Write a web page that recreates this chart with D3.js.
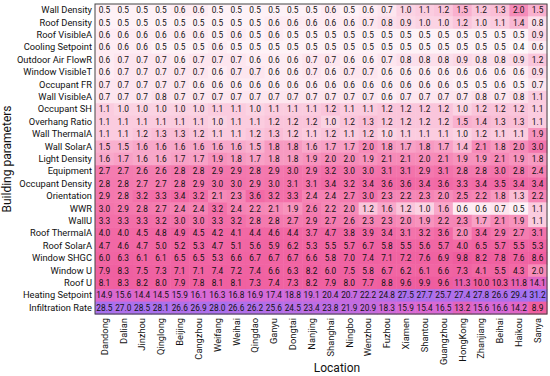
<!DOCTYPE html>
<meta charset="utf-8" />
<style>
  body { margin: 0; background: #fff; }
  text { font-family: Roboto, "Liberation Sans", sans-serif; fill: #111; }
</style>
<body>
<div id="chart"></div>
<script src="https://cdn.jsdelivr.net/npm/d3@7"></script>
<script>
// locations (columns)
var locations = ["Dandong","Dalian","Jinzhou","Qinglong","Beijing","Cangzhou","Weifang","Weihai",
  "Qingdao","Ganyu","Dongtai","Nanjing","Shanghai","Ningbo","Wenzhou","Fuzhou",
  "Xiamen","Shantou","Guangzhou","HongKong","Zhanjiang","Beihai","Haikou","Sanya"];

// building parameters (rows, top to bottom)
var parameters = ["Wall Density","Roof Density","Roof VisibleA","Cooling Setpoint","Outdoor Air FlowR",
  "Window VisibleT","Occupant FR","Wall VisibleA","Occupant SH","Overhang Ratio","Wall ThermalA",
  "Wall SolarA","Light Density","Equipment","Occupant Density","Orientation","WWR","WallU",
  "Roof ThermalA","Roof SolarA","Window SHGC","Window U","Roof U","Heating Setpoint","Infiltration Rate"];

var wallDensity      = [0.5,0.5,0.5,0.5,0.6,0.6,0.5,0.5,0.5,0.5,0.5,0.5,0.6,0.5,0.6,0.7,1.0,1.1,1.2,1.5,1.2,1.3,2.0,1.5];
var roofDensity      = [0.5,0.5,0.5,0.5,0.5,0.5,0.5,0.5,0.5,0.6,0.6,0.6,0.6,0.6,0.7,0.8,0.9,1.0,1.0,1.2,1.0,1.1,1.4,0.8];
var roofVisibleA     = [0.6,0.6,0.6,0.6,0.6,0.6,0.5,0.6,0.5,0.6,0.5,0.5,0.5,0.5,0.5,0.5,0.5,0.5,0.5,0.5,0.5,0.5,0.5,0.9];
var coolingSetpoint  = [0.6,0.6,0.6,0.5,0.5,0.5,0.6,0.5,0.5,0.5,0.5,0.5,0.5,0.5,0.5,0.5,0.5,0.5,0.5,0.5,0.5,0.5,0.4,0.6];
var outdoorAirFlowR  = [0.6,0.7,0.7,0.7,0.6,0.7,0.7,0.7,0.6,0.6,0.6,0.7,0.7,0.6,0.6,0.7,0.8,0.8,0.8,0.9,0.8,0.8,0.9,1.2];
var windowVisibleT   = [0.6,0.7,0.7,0.7,0.7,0.7,0.6,0.7,0.7,0.6,0.6,0.7,0.6,0.7,0.7,0.6,0.6,0.6,0.6,0.6,0.6,0.6,0.6,0.9];
var occupantFR       = [0.7,0.7,0.7,0.7,0.7,0.6,0.6,0.6,0.6,0.6,0.6,0.6,0.6,0.6,0.6,0.6,0.6,0.6,0.6,0.5,0.5,0.6,0.5,0.7];
var wallVisibleA     = [0.7,0.7,0.7,0.8,0.7,0.7,0.7,0.7,0.7,0.7,0.7,0.7,0.7,0.7,0.7,0.6,0.7,0.7,0.7,0.7,0.8,0.7,0.8,1.1];
var occupantSH       = [1.1,1.0,1.0,1.0,1.0,1.0,1.1,1.1,1.0,1.1,1.1,1.1,1.2,1.1,1.1,1.2,1.2,1.2,1.2,1.0,1.2,1.2,1.2,1.1];
var overhangRatio    = [1.1,1.1,1.1,1.1,1.1,1.1,1.0,1.1,1.1,1.2,1.2,1.2,1.0,1.2,1.3,1.2,1.2,1.2,1.2,1.5,1.4,1.3,1.3,1.1];
var wallThermalA     = [1.1,1.1,1.2,1.3,1.3,1.2,1.1,1.1,1.2,1.3,1.2,1.1,1.2,1.1,1.2,1.0,1.1,1.1,1.1,1.0,1.2,1.1,1.1,1.9];
var wallSolarA       = [1.5,1.5,1.6,1.6,1.6,1.6,1.6,1.6,1.5,1.8,1.8,1.6,1.7,1.7,2.0,1.8,1.7,1.8,1.7,1.4,2.1,1.8,2.0,3.0];
var lightDensity     = [1.6,1.7,1.6,1.6,1.7,1.7,1.9,1.8,1.7,1.8,1.8,1.9,2.0,2.0,1.9,2.1,2.1,2.0,2.1,1.9,1.9,2.1,1.9,1.8];
var equipment        = [2.7,2.7,2.6,2.6,2.8,2.8,2.9,2.9,2.8,2.9,3.0,2.9,3.2,3.0,3.0,3.1,3.1,2.9,3.1,2.8,2.8,3.0,2.8,2.4];
var occupantDensity  = [2.8,2.8,2.7,2.7,2.8,2.9,3.0,3.0,2.9,3.0,3.1,3.1,3.4,3.2,3.4,3.6,3.6,3.4,3.6,3.3,3.4,3.5,3.4,3.4];
var orientation      = [2.9,2.8,3.2,3.3,3.4,3.2,2.1,2.3,3.6,3.2,3.3,2.4,2.4,2.7,3.0,2.3,2.2,2.3,2.0,2.5,2.2,1.8,1.3,2.2];
var wwr              = [3.0,2.9,2.8,2.7,2.4,2.4,3.2,2.4,2.2,2.1,1.9,2.6,2.2,2.0,1.2,1.6,1.2,1.0,1.6,0.6,0.6,0.7,0.5,1.1];
var wallU            = [3.3,3.3,3.3,3.2,3.0,3.0,3.3,3.2,2.8,2.8,2.7,2.9,2.7,2.6,2.3,2.3,2.0,1.9,2.2,2.3,1.7,2.1,1.9,1.1];
var roofThermalA     = [4.0,4.0,4.5,4.8,4.9,4.5,4.2,4.1,4.4,4.6,4.4,3.7,4.7,3.8,3.9,3.4,3.1,3.2,3.6,2.0,3.4,2.9,2.7,3.1];
var roofSolarA       = [4.7,4.6,4.7,5.0,5.2,5.3,4.7,5.1,5.6,5.9,6.2,5.3,5.5,5.7,6.7,5.8,5.5,5.6,5.7,4.0,6.5,5.7,5.5,5.3];
var windowSHGC       = [6.0,6.3,6.1,6.1,6.5,6.5,5.3,6.6,6.7,6.7,6.7,6.6,5.8,7.0,7.4,7.1,7.2,7.6,6.9,9.8,8.2,7.8,7.6,8.6];
var windowU          = [7.9,8.3,7.5,7.3,7.1,7.1,7.4,7.2,7.4,6.6,6.3,8.2,6.0,7.5,5.8,6.7,6.2,6.1,6.6,7.3,4.1,5.5,4.3,2.0];
var roofU            = [8.1,8.3,8.2,8.0,7.9,7.8,8.1,8.1,7.3,7.4,7.3,8.2,7.9,8.0,7.7,8.8,9.6,9.9,9.6,11.3,10.0,10.3,11.8,14.1];
var heatingSetpoint  = [14.9,15.6,14.4,14.5,15.9,16.1,16.3,16.8,16.9,17.4,18.8,19.1,20.4,20.7,22.2,24.8,27.5,27.7,25.7,27.4,27.8,26.6,29.4,31.2];
var infiltrationRate = [28.5,27.0,28.5,28.1,26.6,26.9,28.0,26.6,26.2,25.6,24.5,23.4,23.8,21.9,20.9,18.3,15.9,15.4,16.5,13.2,15.6,16.6,14.2,8.9];

var rows = [wallDensity, roofDensity, roofVisibleA, coolingSetpoint, outdoorAirFlowR, windowVisibleT,
  occupantFR, wallVisibleA, occupantSH, overhangRatio, wallThermalA, wallSolarA, lightDensity,
  equipment, occupantDensity, orientation, wwr, wallU, roofThermalA, roofSolarA, windowSHGC,
  windowU, roofU, heatingSetpoint, infiltrationRate];

// flatten into cells
var cells = [];
rows.forEach(function(vals, i) {
  vals.forEach(function(v, j) {
    cells.push({ param: parameters[i], loc: locations[j], value: v });
  });
});

var W = 550, H = 376;
var margin = { top: 4, right: 3, bottom: 62, left: 95 };
var width = W - margin.left - margin.right,
  height = H - margin.top - margin.bottom;

var svg = d3.select("#chart").append("svg")
  .attr("width", W).attr("height", H)
  .append("g")
  .attr("transform", "translate(" + margin.left + "," + margin.top + ")");

var x = d3.scaleBand().domain(locations).range([0, width]);
var y = d3.scaleBand().domain(parameters).range([0, height]);

// white -> pink -> purple
var color = d3.scaleLinear()
  .domain([0.4, 1.0, 2.0, 3.5, 10, 16, 31.2])
  .range(["#fff8fb", "#fbd3e3", "#f68cb9", "#f26aa6", "#ef5d9f", "#d96ad6", "#9e72f3"])
  .interpolate(d3.interpolateRgb);

svg.selectAll("rect.cell")
  .data(cells)
  .enter()
  .append("rect")
  .attr("class", "cell")
  .attr("x", function(d) { return x(d.loc); })
  .attr("y", function(d) { return y(d.param); })
  .attr("width", x.bandwidth() + 0.5)
  .attr("height", y.bandwidth() + 0.5)
  .attr("fill", function(d) { return color(d.value); });

svg.selectAll("text.val")
  .data(cells)
  .enter()
  .append("text")
  .attr("class", "val")
  .attr("x", function(d) { return x(d.loc) + x.bandwidth() / 2; })
  .attr("y", function(d) { return y(d.param) + y.bandwidth() / 2; })
  .attr("dy", "0.36em")
  .attr("text-anchor", "middle")
  .style("font-size", "8.3px")
  .text(function(d) { return d.value.toFixed(1); });

// frame
svg.append("rect")
  .attr("width", width).attr("height", height)
  .attr("fill", "none")
  .attr("stroke", "#444")
  .attr("stroke-width", 1);

// row labels
var yAxis = svg.append("g")
  .call(d3.axisLeft(y).tickSize(0).tickPadding(3));
yAxis.select(".domain").remove();
yAxis.attr("font-family", null);
yAxis.selectAll("text").style("font-size", "9.3px").attr("fill", "#111");

// column labels
var xAxis = svg.append("g")
  .attr("transform", "translate(0," + height + ")")
  .call(d3.axisBottom(x).tickSize(0).tickPadding(3));
xAxis.select(".domain").remove();
xAxis.attr("font-family", null);
xAxis.selectAll("text")
  .style("font-size", "9.3px")
  .attr("fill", "#111")
  .attr("text-anchor", "end")
  .attr("transform", "rotate(-90)")
  .attr("x", -4)
  .attr("y", 0)
  .attr("dy", "0.35em");

// axis titles
svg.append("text")
  .attr("x", 242)
  .attr("y", height + 58)
  .attr("text-anchor", "middle")
  .style("font-size", "12px")
  .text("Location");

svg.append("text")
  .attr("transform", "rotate(-90)")
  .attr("x", -height / 2)
  .attr("y", -84)
  .attr("text-anchor", "middle")
  .style("font-size", "12px")
  .text("Building parameters");
</script>
</body>
